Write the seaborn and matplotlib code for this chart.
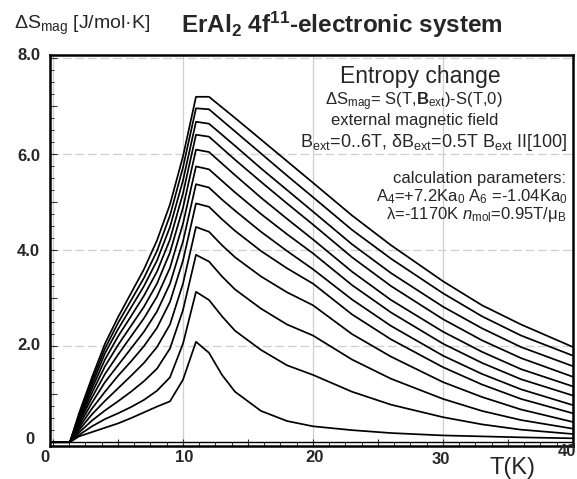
import numpy as np
import pandas as pd
import matplotlib
matplotlib.use("Agg")
import matplotlib.pyplot as plt
from matplotlib.ticker import MultipleLocator
import seaborn as sns

# Temperature grid (K)
temperature = [0.0, 1.3, 2, 3, 4, 5, 6, 7, 8, 9, 10, 11, 12, 13, 14, 16, 18, 20, 23, 26, 30, 33, 36, 40]

# Magnetic entropy change for B_ext = 0.5 ... 6.0 T (J/mol K)
fields = [0.5, 1.0, 1.5, 2.0, 2.5, 3.0, 3.5, 4.0, 4.5, 5.0, 5.5, 6.0]
ds_b05 = [0, 0, 0.12, 0.21, 0.30, 0.39, 0.50, 0.62, 0.74, 0.85, 1.30, 2.09, 1.86, 1.40, 1.05, 0.65, 0.44, 0.33, 0.25, 0.19, 0.14, 0.12, 0.10, 0.08]
ds_b10 = [0, 0, 0.15, 0.33, 0.48, 0.60, 0.73, 0.88, 1.07, 1.35, 2.05, 3.13, 2.96, 2.62, 2.32, 1.92, 1.60, 1.40, 1.05, 0.78, 0.52, 0.37, 0.26, 0.17]
ds_b15 = [0, 0, 0.20, 0.45, 0.66, 0.85, 1.05, 1.27, 1.53, 1.95, 2.75, 3.90, 3.76, 3.45, 3.18, 2.78, 2.45, 2.22, 1.72, 1.32, 0.90, 0.65, 0.46, 0.28]
ds_b20 = [0, 0, 0.25, 0.58, 0.86, 1.12, 1.38, 1.65, 1.98, 2.45, 3.30, 4.48, 4.38, 4.10, 3.85, 3.45, 3.12, 2.85, 2.25, 1.78, 1.25, 0.94, 0.68, 0.42]
ds_b25 = [0, 0, 0.30, 0.70, 1.05, 1.38, 1.68, 2.00, 2.38, 2.92, 3.78, 4.97, 4.90, 4.64, 4.40, 3.98, 3.62, 3.30, 2.66, 2.14, 1.56, 1.20, 0.90, 0.60]
ds_b30 = [0, 0, 0.35, 0.82, 1.25, 1.60, 1.95, 2.30, 2.72, 3.30, 4.18, 5.37, 5.30, 5.05, 4.82, 4.38, 3.98, 3.60, 2.97, 2.42, 1.80, 1.42, 1.10, 0.77]
ds_b35 = [0, 0, 0.40, 0.93, 1.42, 1.82, 2.20, 2.58, 3.03, 3.63, 4.55, 5.74, 5.68, 5.44, 5.20, 4.75, 4.33, 3.93, 3.27, 2.70, 2.05, 1.65, 1.31, 0.97]
ds_b40 = [0, 0, 0.43, 1.03, 1.58, 2.02, 2.42, 2.82, 3.30, 3.95, 4.88, 6.09, 6.04, 5.80, 5.56, 5.09, 4.65, 4.22, 3.55, 2.96, 2.30, 1.88, 1.52, 1.16]
ds_b45 = [0, 0, 0.47, 1.12, 1.72, 2.20, 2.62, 3.05, 3.55, 4.22, 5.18, 6.40, 6.36, 6.12, 5.88, 5.42, 4.97, 4.53, 3.85, 3.25, 2.56, 2.12, 1.75, 1.36]
ds_b50 = [0, 0, 0.50, 1.20, 1.85, 2.35, 2.80, 3.25, 3.78, 4.48, 5.45, 6.67, 6.63, 6.40, 6.17, 5.70, 5.25, 4.80, 4.12, 3.52, 2.82, 2.37, 1.98, 1.58]
ds_b55 = [0, 0, 0.55, 1.28, 1.95, 2.48, 2.95, 3.42, 3.98, 4.72, 5.72, 6.95, 6.93, 6.70, 6.47, 6.01, 5.55, 5.10, 4.42, 3.82, 3.10, 2.62, 2.22, 1.80]
ds_b60 = [0, 0, 0.60, 1.35, 2.05, 2.60, 3.10, 3.60, 4.20, 4.95, 5.95, 7.19, 7.19, 6.97, 6.75, 6.30, 5.85, 5.40, 4.72, 4.10, 3.35, 2.85, 2.45, 1.98]

series = [ds_b05, ds_b10, ds_b15, ds_b20, ds_b25, ds_b30,
          ds_b35, ds_b40, ds_b45, ds_b50, ds_b55, ds_b60]

x_ticks = [0, 10, 20, 30, 40]
x_tick_labels = ["0", "10", "20", "30", "40"]
y_ticks = [0, 2, 4, 6, 8]
y_tick_labels = ["0", "2.0", "4.0", "6.0", "8.0"]

df = pd.DataFrame({
    "T": np.tile(temperature, len(fields)),
    "dS": np.concatenate(series),
    "B": np.repeat(fields, len(temperature)),
})

sns.set_theme(style="white")
plt.rcParams["font.family"] = ["Liberation Sans", "DejaVu Sans"]
plt.rcParams["mathtext.fontset"] = "custom"
plt.rcParams["mathtext.rm"] = "Liberation Sans"
plt.rcParams["mathtext.it"] = "Liberation Sans:italic"
plt.rcParams["mathtext.bf"] = "Liberation Sans:bold"

W, H = 577, 479
fig = plt.figure(figsize=(W / 100, H / 100), dpi=100)
ax = fig.add_axes([50 / W, 1 - 446 / H, 523 / W, 391 / H])

# grid: solid verticals, dashed horizontals
for t in x_ticks:
    ax.axvline(t, color="#cfcfcf", lw=0.9, zorder=0)
for v in y_ticks[1:]:
    ax.axhline(v, color="#cfcfcf", lw=0.9, ls=(0, (7, 3)), zorder=0)
ax.axhline(0, color="black", lw=1.0, zorder=1)

sns.lineplot(data=df, x="T", y="dS", hue="B", units="B", estimator=None,
             palette=["black"] * len(fields), legend=False, lw=1.25, ax=ax,
             sort=True)

ax.set_xlim(-0.23, 40.0)
ax.set_ylim(-0.08, 8.06)
ax.set_xlabel("")
ax.set_ylabel("")
ax.set_xticklabels([])
ax.set_yticklabels([])

ax.xaxis.set_major_locator(MultipleLocator(5))
ax.xaxis.set_minor_locator(MultipleLocator(1.25))
ax.yaxis.set_major_locator(MultipleLocator(1))
ax.yaxis.set_minor_locator(MultipleLocator(0.25))
ax.tick_params(axis="both", which="both", direction="in", color="#333333",
               bottom=True, left=True, top=False, right=False,
               labelbottom=False, labelleft=False)
ax.tick_params(which="major", length=5, width=0.8)
ax.tick_params(which="minor", length=3, width=0.7)

for sp in ax.spines.values():
    sp.set_color("black")
    sp.set_linewidth(1.8)

def px(x, y):
    return x / W, 1 - y / H

# tick labels
xlab_pos = [(45, 458, "center"), (184, 458, "center"), (315, 458, "center"),
            (441, 459, "center"), (576, 451, "right")]
for lab, (x, y, ha) in zip(x_tick_labels, xlab_pos):
    fig.text(*px(x, y), lab, ha=ha, va="center", fontsize=12, fontweight="bold")
ylab_pos = [(34, 439), (40, 346), (40, 251), (40, 156), (40, 56)]
for lab, (x, y) in zip(y_tick_labels, ylab_pos):
    fig.text(*px(x, y), lab, ha="right", va="center", fontsize=12, fontweight="bold")

# axis titles and heading
fig.text(*px(14, 25), r"ΔS$_{\mathrm{mag}}$ [J/mol·K]", ha="left", va="center", fontsize=14)
fig.text(*px(342, 25), r"ErAl$_{\mathbf{2}}$ 4f$^{\mathbf{11}}$-electronic system",
         ha="center", va="center", fontsize=17.5, fontweight="bold")
fig.text(*px(512, 468), "T(K)", ha="center", va="center", fontsize=17)

# annotation block
fig.text(*px(420, 77), "Entropy change", ha="center", va="center", fontsize=16.5)
fig.text(*px(414, 102), r"ΔS$_{\mathrm{mag}}$= S(T,$\mathbf{B}_{\mathrm{ext}}$)-S(T,0)",
         ha="center", va="center", fontsize=12)
fig.text(*px(415, 120), "external magnetic field", ha="center", va="center", fontsize=12)
fig.text(*px(567, 142), r"B$_{\mathrm{ext}}$=0..6T, δB$_{\mathrm{ext}}$=0.5T B$_{\mathrm{ext}}$ II[100]",
         ha="right", va="center", fontsize=13)
fig.text(*px(566, 178), "calculation parameters:", ha="right", va="center", fontsize=12)
fig.text(*px(568, 197), r"A$_4$=+7.2Ka$_0$ A$_6$ =-1.04Ka$_0$", ha="right", va="center", fontsize=12)
fig.text(*px(566, 215), r"λ=-1170K $n_{\mathrm{mol}}$=0.95T/μ$_{\mathrm{B}}$", ha="right", va="center", fontsize=12)

fig.savefig("out.png", dpi=100)
